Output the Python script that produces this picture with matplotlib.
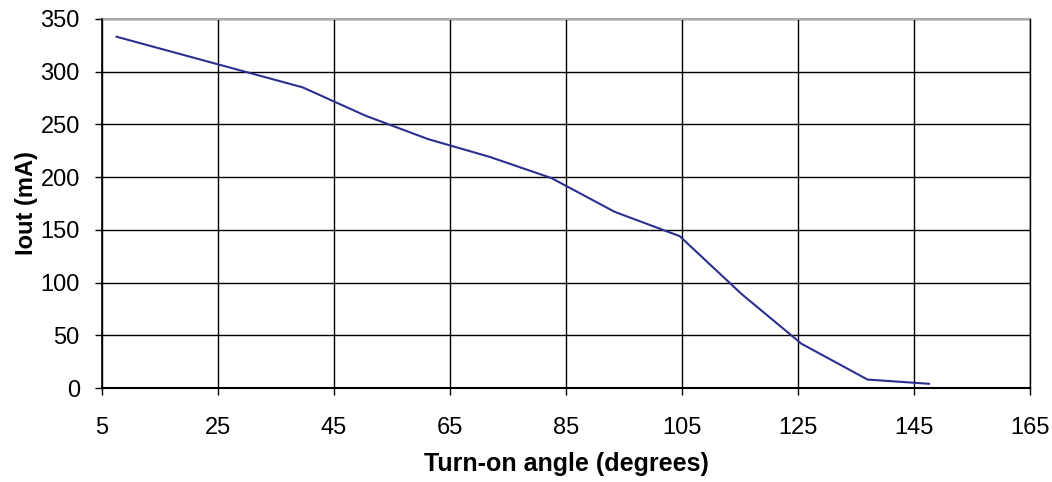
import matplotlib.pyplot as plt
import numpy as np

plt.rcParams['font.family'] = ['Liberation Sans', 'DejaVu Sans']

angle = [7.5, 18.2, 28.9, 39.6, 50.5, 61.2, 71.9, 82.5, 93.4, 104.6, 115.3, 125.6, 137.0, 147.6]
iout = [333, 317, 301, 285, 258, 236, 219, 199, 167, 144, 89, 42, 8, 4]

x_ticks = np.arange(5, 166, 20)
y_ticks = np.arange(0, 351, 50)

fig = plt.figure(figsize=(10.52, 4.82), dpi=100)
ax = fig.add_axes([0.097, 0.195, 0.882, 0.766])

ax.plot(angle, iout, color='#2b2f8f', linewidth=1.5)

ax.set_xlim(5, 165)
ax.set_ylim(0, 350)
ax.set_xticks(x_ticks)
ax.set_yticks(y_ticks)
ax.grid(True, color='black', linewidth=1.0)
ax.tick_params(axis='both', labelsize=17, length=5, width=1.0, color='black')
ax.tick_params(axis='x', pad=16)
ax.tick_params(axis='y', pad=11)

ax.spines['top'].set_visible(False)
ax.spines['right'].set_linewidth(1.0)
ax.spines['left'].set_linewidth(1.2)
ax.spines['bottom'].set_linewidth(1.5)
ax.axhline(350, color='#aaaaaa', linewidth=1.5, clip_on=False)

ax.set_xlabel('Turn-on angle (degrees)', fontsize=18, fontweight='bold', labelpad=9)
ax.set_ylabel('Iout (mA)', fontsize=17, fontweight='bold', labelpad=2)

fig.savefig('out.png', dpi=100)
